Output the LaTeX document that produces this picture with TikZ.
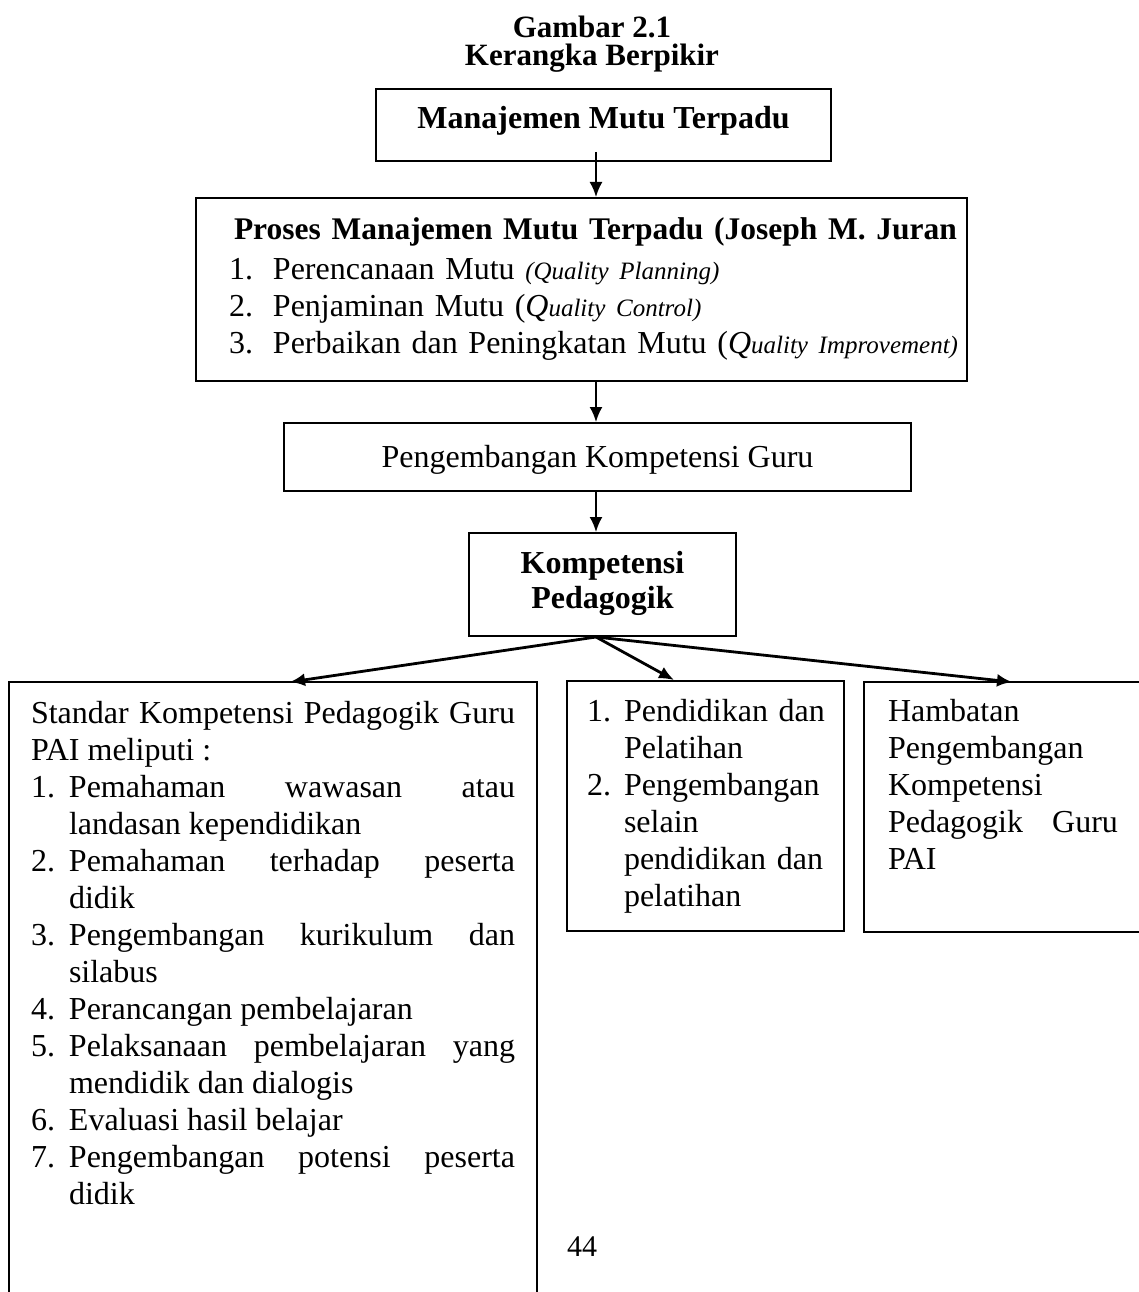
\documentclass[tikz,border=0pt]{standalone}
\usepackage{fontspec}
\setmainfont{Liberation Serif}
\usetikzlibrary{arrows.meta}

% butir daftar bernomor dengan indentasi gantung
\newcommand{\butir}[3]{\hangindent=#1\hangafter=1\noindent\makebox[#1][l]{#2}#3\par}

\begin{document}
\begin{tikzpicture}[x=1pt, y=-1pt, >={Latex[length=15pt,width=13pt]},
    kotak/.style={draw, line width=2pt, anchor=north west, inner sep=0pt},
    teks/.style={font=\fontsize{32}{37}\selectfont},
    tebal/.style={font=\fontsize{32}{35}\selectfont\bfseries},
    panah/.style={->, line width=2pt},
    cabang/.style={->, line width=2.8pt}]
    \useasboundingbox (0,0) rectangle (1139,1292);

    % judul gambar
    \node[font=\fontsize{31}{28}\selectfont\bfseries, align=center, anchor=north, inner sep=0pt] (judul) at (592,16) {Gambar 2.1\\Kerangka Berpikir};

    % kotak bagian atas
    \node[kotak, tebal, minimum width=455pt, text height=40pt, text depth=32pt] (mmt) at (375,88) {Manajemen Mutu Terpadu};

    \node[kotak, teks, text width=749pt, inner xsep=11pt, align=left, text height=41pt, text depth=142pt] (proses) at (195,197) {%
        \mbox{\hspace*{27pt}\fontsize{31.5}{35}\selectfont\bfseries Proses Manajemen Mutu Terpadu (Joseph M. Juran}\\[3pt]
        \mbox{\hspace*{22pt}\makebox[44pt][l]{1.}Perencanaan Mutu {\fontsize{25}{30}\selectfont\itshape (Quality Planning)}}\\
        \mbox{\hspace*{22pt}\makebox[44pt][l]{2.}Penjaminan Mutu (\textit{Q}{\fontsize{25}{30}\selectfont\itshape uality Control)}}\\
        \mbox{\hspace*{22pt}\makebox[44pt][l]{3.}Perbaikan dan Peningkatan Mutu (\textit{Q}{\fontsize{25}{30}\selectfont\itshape uality Improvement)}}};

    \node[kotak, teks, minimum width=627pt, text height=44pt, text depth=24pt] (pkg) at (283,422) {Pengembangan Kompetensi Guru};

    \node[kotak, tebal, text width=245pt, inner xsep=11pt, align=center, text height=40pt, text depth=63pt] (kp) at (468,532) {Kompetensi\\Pedagogik};

    % tiga kotak bawah
    \node[kotak, draw=none, teks, text width=484pt, inner xsep=21pt, align=justify, text height=40pt, text depth=570pt] (std) at (9,682) {%
        Standar Kompetensi Pedagogik Guru PAI meliputi :\par
        \butir{38pt}{1.}{Pemahaman wawasan atau\linebreak landasan kependidikan}
        \butir{38pt}{2.}{Pemahaman terhadap peserta\linebreak didik}
        \butir{38pt}{3.}{Pengembangan kurikulum dan\linebreak silabus}
        \butir{38pt}{4.}{Perancangan pembelajaran}
        \butir{38pt}{5.}{Pelaksanaan pembelajaran yang\linebreak mendidik dan dialogis}
        \butir{38pt}{6.}{Evaluasi hasil belajar}
        \butir{38pt}{7.}{Pengembangan potensi peserta\linebreak didik}};
    \draw[line width=2pt] (std.south west) -- (std.north west) -- (std.north east) -- (std.south east);

    \node[kotak, teks, text width=237pt, inner xsep=20pt, align=left, text height=40pt, text depth=210pt] (diklat) at (566,680) {%
        \butir{37pt}{1.}{\mbox{Pendidikan dan}\newline Pelatihan}
        \butir{37pt}{2.}{Pengembangan\newline selain\newline \mbox{pendidikan dan}\newline pelatihan}};

    \node[kotak, draw=none, teks, text width=230pt, inner xsep=23pt, align=justify, text height=38pt, text depth=210pt] (hamb) at (864,682) {%
        Hambatan\newline Pengembangan\newline Kompetensi\newline Pedagogik Guru\linebreak PAI};
    \draw[line width=2pt] (hamb.north east) -- (hamb.north west) -- (hamb.south west) -- (hamb.south east);

    % nomor halaman
    \node[font=\fontsize{30}{34}\selectfont] (hal) at (582,1247) {44};

    % panah penghubung
    \coordinate (sumbu) at (596,0);
    \coordinate (awal) at (596,152);
    \draw[panah] (awal) -- (proses.north -| sumbu);
    \draw[panah] (proses.south -| sumbu) -- (pkg.north -| sumbu);
    \draw[panah] (pkg.south -| sumbu) -- (kp.north -| sumbu);
    \draw[cabang] (kp.south -| sumbu) -- (std.north -| 290,0);
    \draw[cabang] (kp.south -| sumbu) -- (diklat.north -| 674,0);
    \draw[cabang] (kp.south -| sumbu) -- (hamb.north -| 1012,0);
\end{tikzpicture}
\end{document}
